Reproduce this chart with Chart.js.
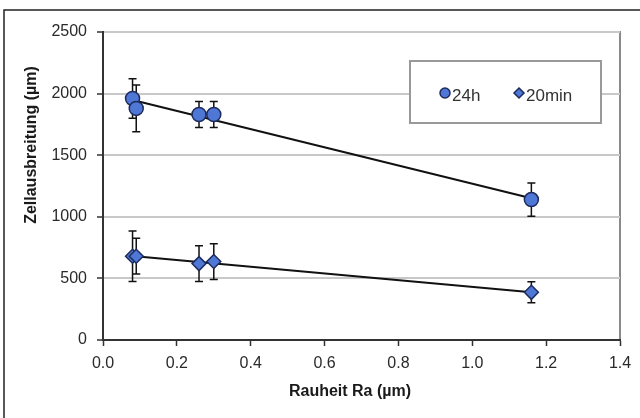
<!DOCTYPE html>
<html>
<head>
<meta charset="utf-8">
<script src="https://cdn.jsdelivr.net/npm/chart.js@4.4.1/dist/chart.umd.min.js"></script>
<style>
  html, body { margin: 0; padding: 0; background: #fff; }
  #wrap { width: 640px; height: 418px; position: relative; }
</style>
</head>
<body>
<div id="wrap"><canvas id="chart" width="640" height="418"></canvas></div>
<script>
// Zellausbreitung vs. Rauheit, two incubation times
const roughness = [0.08, 0.09, 0.26, 0.30, 1.16];
const spread24h = [1960, 1880, 1830, 1830, 1140];
const err24h = [160, 190, 105, 105, 135];
const spread20min = [680, 680, 620, 637, 387];
const err20min = [205, 145, 145, 145, 85];
const seriesLabels = ['24h', '20min'];
const xTitle = 'Rauheit Ra (µm)';
const yTitle = 'Zellausbreitung (µm)';

const FONT = '"Liberation Sans", Arial, sans-serif';
const FILL = '#4f78d6';
const EDGE = '#1d2b5c';

// least squares line over the measured range
function trend(xs, ys) {
    const n = xs.length;
    const mx = xs.reduce((a, b) => a + b, 0) / n;
    const my = ys.reduce((a, b) => a + b, 0) / n;
    let sxy = 0, sxx = 0;
    xs.forEach((x, i) => { sxy += (x - mx) * (ys[i] - my); sxx += (x - mx) * (x - mx); });
    const k = sxy / sxx;
    const x0 = Math.min(...xs), x1 = Math.max(...xs);
    return [{ x: x0, y: my + k * (x0 - mx) }, { x: x1, y: my + k * (x1 - mx) }];
}

const pts = (xs, ys) => xs.map((x, i) => ({ x, y: ys[i] }));

const errorBars = {
    id: 'errorBars',
    beforeDatasetDraw(chart, args) {
        const ds = chart.data.datasets[args.index];
        if (!ds.errors) return;
        const { ctx, scales: { x, y } } = chart;
        ctx.save();
        ctx.strokeStyle = '#111';
        ctx.lineWidth = 1.5;
        ds.data.forEach((p, i) => {
            const px = x.getPixelForValue(p.x);
            const top = y.getPixelForValue(p.y + ds.errors[i]);
            const bot = y.getPixelForValue(p.y - ds.errors[i]);
            ctx.beginPath();
            ctx.moveTo(px, top); ctx.lineTo(px, bot);
            ctx.moveTo(px - 4, top); ctx.lineTo(px + 4, top);
            ctx.moveTo(px - 4, bot); ctx.lineTo(px + 4, bot);
            ctx.stroke();
        });
        ctx.restore();
    }
};

const frame = {
    id: 'frame',
    beforeDraw(chart) {
        const { ctx, chartArea: a } = chart;
        ctx.save();
        ctx.fillStyle = '#fff';
        ctx.fillRect(0, 0, chart.width, chart.height);
        // outer border (left + top only visible)
        ctx.strokeStyle = '#222';
        ctx.lineWidth = 1.5;
        ctx.beginPath();
        ctx.moveTo(4, chart.height); ctx.lineTo(4, 10); ctx.lineTo(chart.width, 10);
        ctx.stroke();
        // plot area box
        ctx.strokeStyle = '#8a8a8a';
        ctx.lineWidth = 2;
        ctx.strokeRect(a.left, a.top, a.right - a.left, a.bottom - a.top);
        ctx.restore();
    },
    afterDraw(chart) {
        const { ctx } = chart;
        ctx.save();
        // axis titles
        ctx.fillStyle = '#1a1a1a';
        ctx.font = 'bold 16px ' + FONT;
        ctx.textAlign = 'center';
        ctx.textBaseline = 'middle';
        ctx.fillText(xTitle, 350, 392);
        ctx.translate(32, 145);
        ctx.rotate(-Math.PI / 2);
        ctx.fillText(yTitle, 0, 0);
        ctx.restore();

        // legend
        ctx.save();
        ctx.fillStyle = '#fff';
        ctx.fillRect(410, 61, 191, 62);
        ctx.strokeStyle = '#999';
        ctx.lineWidth = 2;
        ctx.strokeRect(410, 61, 191, 62);
        const items = [[445, 'circle', 5], [519, 'rectRot', 5]];
        items.forEach(([lx, style, r], i) => {
            ctx.fillStyle = FILL;
            ctx.strokeStyle = EDGE;
            ctx.lineWidth = 1.5;
            ctx.beginPath();
            if (style === 'circle') {
                ctx.arc(lx, 93, r, 0, Math.PI * 2);
            } else {
                ctx.moveTo(lx, 93 - r); ctx.lineTo(lx + r, 93);
                ctx.lineTo(lx, 93 + r); ctx.lineTo(lx - r, 93); ctx.closePath();
            }
            ctx.fill(); ctx.stroke();
            ctx.fillStyle = '#333';
            ctx.font = '17px ' + FONT;
            ctx.textAlign = 'left';
            ctx.textBaseline = 'middle';
            ctx.fillText(seriesLabels[i], lx + 7, 96);
        });
        ctx.restore();
    }
};

new Chart(document.getElementById('chart'), {
    type: 'scatter',
    data: {
        datasets: [
            {
                label: seriesLabels[0],
                data: pts(roughness, spread24h),
                errors: err24h,
                pointStyle: 'circle',
                pointRadius: 7,
                backgroundColor: FILL,
                borderColor: EDGE,
                borderWidth: 1.5,
                order: 1
            },
            {
                label: seriesLabels[1],
                data: pts(roughness, spread20min),
                errors: err20min,
                pointStyle: 'rectRot',
                pointRadius: 7,
                backgroundColor: FILL,
                borderColor: EDGE,
                borderWidth: 1.5,
                order: 1
            },
            {
                type: 'line',
                data: trend(roughness, spread24h),
                borderColor: '#111',
                borderWidth: 2,
                pointRadius: 0,
                order: 2
            },
            {
                type: 'line',
                data: trend(roughness, spread20min),
                borderColor: '#111',
                borderWidth: 2,
                pointRadius: 0,
                order: 2
            }
        ]
    },
    options: {
        responsive: false,
        animation: false,
        layout: { padding: { left: 0, top: 32, right: 20, bottom: 0 } },
        plugins: { legend: { display: false }, tooltip: { enabled: false } },
        scales: {
            x: {
                type: 'linear',
                min: 0, max: 1.4,
                afterFit(s) { s.height = 78; },
                ticks: {
                    stepSize: 0.2,
                    padding: 8,
                    color: '#2a2a2a',
                    font: { family: FONT, size: 16 },
                    callback: v => v.toFixed(1)
                },
                grid: { drawOnChartArea: false, tickLength: 6, tickColor: '#333', tickWidth: 1.5 },
                border: { color: '#333', width: 2 }
            },
            y: {
                min: 0, max: 2500,
                afterFit(s) { s.width = 103; },
                ticks: {
                    stepSize: 500,
                    padding: 10,
                    color: '#2a2a2a',
                    font: { family: FONT, size: 16 },
                    callback: v => String(v)
                },
                grid: { color: '#c8c8c8', lineWidth: 2, tickLength: 6, tickColor: '#333', tickWidth: 1.5 },
                border: { color: '#333', width: 2 }
            }
        }
    },
    plugins: [frame, errorBars]
});
</script>
</body>
</html>
